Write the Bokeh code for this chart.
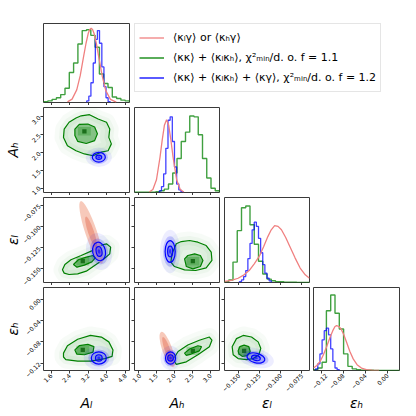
import numpy as np
from math import pi
from bokeh.plotting import figure
from bokeh.models import Range1d, FixedTicker, Legend, LegendItem, GridPlot
from bokeh.embed import file_html
from bokeh.resources import INLINE

# ---------------- parameters, ranges, ticks ----------------
param_labels = ["Aₗ", "Aₕ", "εₗ", "εₕ"]
param_ranges = [(1.27, 4.97), (0.89, 3.25), (-0.166, -0.066), (-0.134, 0.022)]
tick_values = [[1.6, 2.4, 3.2, 4.0, 4.8],
               [1.0, 1.5, 2.0, 2.5, 3.0],
               [-0.150, -0.125, -0.100, -0.075],
               [-0.12, -0.08, -0.04, 0.0]]
tick_labels = [["1.6", "2.4", "3.2", "4.0", "4.8"],
               ["1.0", "1.5", "2.0", "2.5", "3.0"],
               ["−0.150", "−0.125", "−0.100", "−0.075"],
               ["−0.12", "−0.08", "−0.04", "0.00"]]

legend_labels = ["⟨κₗγ⟩ or ⟨κₕγ⟩",
                 "⟨κκ⟩ + ⟨κₗκₕ⟩, χ²ₘᵢₙ/d. o. f = 1.1",
                 "⟨κκ⟩ + ⟨κₗκₕ⟩ + ⟨κγ⟩, χ²ₘᵢₙ/d. o. f = 1.2"]

# ---------------- 1D marginals (relative heights) ----------------
green_hist_Al = [0.01, 0.02, 0.04, 0.06, 0.10, 0.18, 0.38, 0.50, 0.74, 0.91,
                 0.92, 0.85, 0.70, 0.36, 0.24, 0.19, 0.07, 0.05, 0.03, 0.02]
green_hist_Ah = [0.005, 0.005, 0.005, 0.005, 0.005, 0.01, 0.02, 0.04, 0.10, 0.23,
                 0.40, 0.60, 0.71, 0.90, 0.89, 0.68, 0.40, 0.17, 0.05, 0.02]
green_hist_el = [0.01, 0.03, 0.24, 0.61, 0.88, 0.90, 0.68, 0.45, 0.25, 0.10,
                 0.04, 0.02, 0.01, 0.008, 0.005, 0.004, 0.003, 0.002, 0.002, 0.001]
green_hist_eh = [0.01, 0.03, 0.10, 0.72, 0.91, 0.69, 0.50, 0.20, 0.05, 0.02,
                 0.01, 0.005, 0.004, 0.003, 0.002, 0.002, 0.001, 0.001, 0.001, 0.001]

blue_edges_Al = [3.13, 3.22, 3.31, 3.41, 3.50, 3.59, 3.68, 3.78, 3.87, 3.96, 4.05, 4.14]
blue_hist_Al = [0.02, 0.08, 0.25, 0.50, 0.80, 0.91, 0.75, 0.45, 0.20, 0.06, 0.01]
blue_edges_Ah = [1.58, 1.64, 1.70, 1.76, 1.82, 1.88, 1.94, 2.00, 2.06, 2.12, 2.18, 2.24]
blue_hist_Ah = [0.02, 0.07, 0.22, 0.52, 0.85, 0.89, 0.60, 0.30, 0.10, 0.03, 0.01]
blue_edges_el = [-0.1485, -0.1460, -0.1435, -0.1410, -0.1385, -0.1360, -0.1335, -0.1310,
                 -0.1285, -0.1260, -0.1235, -0.1210, -0.1185, -0.1160, -0.1135, -0.1110]
blue_hist_el = [0.01, 0.03, 0.07, 0.14, 0.28, 0.46, 0.62, 0.71, 0.66, 0.52, 0.35, 0.21, 0.11, 0.05, 0.02]
blue_edges_eh = [-0.1301, -0.1262, -0.1223, -0.1184, -0.1145, -0.1106, -0.1067, -0.1028,
                 -0.0989, -0.0950, -0.0911, -0.0872]
blue_hist_eh = [0.02, 0.08, 0.20, 0.37, 0.48, 0.51, 0.43, 0.26, 0.11, 0.03, 0.01]

red_x_Al = [2.30, 2.50, 2.70, 2.85, 3.00, 3.10, 3.20, 3.26, 3.32, 3.38, 3.45, 3.55, 3.65, 3.80, 3.95, 4.15, 4.40]
red_y_Al = [0.008, 0.043, 0.16, 0.34, 0.59, 0.75, 0.88, 0.925, 0.94, 0.925, 0.87, 0.74, 0.57, 0.33, 0.15, 0.04, 0.005]
red_x_Ah = [1.30, 1.40, 1.50, 1.60, 1.66, 1.72, 1.78, 1.84, 1.90, 1.96, 2.06, 2.16, 2.26]
red_y_Ah = [0.005, 0.035, 0.15, 0.42, 0.62, 0.79, 0.855, 0.79, 0.62, 0.42, 0.15, 0.035, 0.005]
red_x_el = [-0.166, -0.158, -0.150, -0.143, -0.137, -0.131, -0.125, -0.120, -0.115, -0.111,
            -0.107, -0.103, -0.099, -0.094, -0.089, -0.083, -0.077, -0.071, -0.066]
red_y_el = [0.012, 0.025, 0.05, 0.09, 0.14, 0.22, 0.31, 0.42, 0.54, 0.62,
            0.67, 0.66, 0.62, 0.53, 0.42, 0.29, 0.17, 0.09, 0.05]
red_x_eh = [-0.134, -0.128, -0.122, -0.116, -0.110, -0.104, -0.099, -0.095, -0.092, -0.088,
            -0.084, -0.079, -0.074, -0.068, -0.062, -0.055, -0.047, -0.038, -0.028, -0.015]
red_y_eh = [0.03, 0.06, 0.11, 0.19, 0.29, 0.40, 0.48, 0.53, 0.54, 0.53,
            0.50, 0.43, 0.34, 0.23, 0.14, 0.07, 0.03, 0.01, 0.003, 0.0]

# ---------------- 2D panels: green contours (outer / inner), peak, blue & red ellipses ----------------
# (A_l , A_h)
AlAh_outer_x = [2.13, 2.16, 2.37, 2.67, 2.89, 3.25, 3.62, 3.98, 4.12, 4.08, 4.19, 4.05, 3.76, 3.40, 3.03, 2.67, 2.30]
AlAh_outer_y = [2.42, 2.65, 2.84, 2.96, 3.02, 3.05, 2.93, 2.84, 2.65, 2.42, 2.24, 2.05, 2.01, 1.91, 1.96, 2.05, 2.19]
AlAh_inner_x = [2.62, 2.81, 3.18, 3.47, 3.59, 3.47, 3.11, 2.74, 2.62]
AlAh_inner_y = [2.65, 2.78, 2.79, 2.71, 2.52, 2.33, 2.25, 2.31, 2.47]
AlAh_peak = [3.03, 2.59]
AlAh_blue = [3.65, 1.87, 0.56, 0.27, 0.25, 0.12, 0.0]   # cx, cy, w_out, h_out, w_in, h_in, angle

# (A_l , eps_l)
Alel_outer_x = [2.085, 2.19, 2.45, 2.89, 3.32, 3.69, 3.98, 4.16, 4.12, 3.83, 3.47, 3.11, 2.74, 2.37, 2.16]
Alel_outer_y = [-0.1511, -0.1448, -0.1393, -0.1342, -0.1291, -0.1225, -0.1205, -0.1244, -0.1323,
                -0.1393, -0.1460, -0.1527, -0.1558, -0.1566, -0.1550]
Alel_inner_x = [2.56, 2.77, 3.11, 3.40, 3.50, 3.35, 3.03, 2.71]
Alel_inner_y = [-0.1448, -0.1393, -0.1362, -0.1342, -0.1370, -0.1417, -0.1456, -0.1480]
Alel_peak = [2.96, -0.1409]
Alel_blue = [3.66, -0.1295, 0.55, 0.022, 0.25, 0.0118, 0.2]
Alel_red = [3.32, -0.107, 0.50, 0.0774, 0.26, 0.039, 0.325]   # cx, cy, w_out, h_out, w_in, h_in, angle

# (A_l , eps_h)
Aleh_outer_x = [2.13, 2.30, 2.74, 3.29, 3.76, 4.08, 4.26, 4.22, 3.91, 3.32, 2.74, 2.23, 2.13]
Aleh_outer_y = [-0.1013, -0.0874, -0.0753, -0.0681, -0.0711, -0.0802, -0.0953, -0.1074, -0.1116,
                -0.1165, -0.1165, -0.1134, -0.1086]
Aleh_inner_x = [2.62, 2.81, 3.18, 3.44, 3.40, 3.03, 2.70]
Aleh_inner_y = [-0.0953, -0.0874, -0.0850, -0.0892, -0.0995, -0.1044, -0.1031]
Aleh_peak = [2.96, -0.0953]
Aleh_blue = [3.65, -0.1104, 0.65, 0.023, 0.29, 0.012, 0.0]

# (A_h , eps_l)
Ahel_outer_x = [1.90, 1.93, 2.05, 2.19, 2.42, 2.65, 2.88, 3.02, 3.04, 2.88, 2.59, 2.28, 2.00]
Ahel_outer_y = [-0.1421, -0.1323, -0.1205, -0.1178, -0.1166, -0.1186, -0.1225, -0.1303, -0.1401,
                -0.1487, -0.1519, -0.1511, -0.1472]
Ahel_inner_x = [2.28, 2.37, 2.56, 2.72, 2.79, 2.72, 2.51, 2.33]
Ahel_inner_y = [-0.1382, -0.1342, -0.1323, -0.1342, -0.1401, -0.1472, -0.1499, -0.1472]
Ahel_peak = [2.51, -0.1409]
Ahel_blue = [1.88, -0.1295, 0.28, 0.0255, 0.14, 0.0125, 0.0]

# (A_h , eps_h)
Aheh_outer_x = [1.96, 2.10, 2.37, 2.69, 2.97, 3.04, 2.97, 2.65, 2.33, 2.05]
Aheh_outer_y = [-0.1134, -0.0983, -0.0862, -0.0771, -0.0711, -0.0771, -0.0892, -0.1044, -0.1177, -0.1225]
Aheh_inner_x = [2.28, 2.42, 2.65, 2.75, 2.69, 2.46, 2.33]
Aheh_inner_y = [-0.1013, -0.0935, -0.0874, -0.0892, -0.0971, -0.1031, -0.1056]
Aheh_peak = [2.51, -0.0971]
Aheh_blue = [1.89, -0.1104, 0.28, 0.023, 0.157, 0.012, 0.0]
Aheh_red = [1.80, -0.0945, 0.28, 0.070, 0.15, 0.050, 0.335]

# (eps_l , eps_h)
eleh_outer_x = [-0.1570, -0.1519, -0.1440, -0.1342, -0.1264, -0.1233, -0.1256, -0.1322, -0.1401, -0.1500, -0.1558]
eleh_outer_y = [-0.0892, -0.0741, -0.0681, -0.0711, -0.0802, -0.0923, -0.1044, -0.1116, -0.1134, -0.1116, -0.1044]
eleh_inner_x = [-0.1500, -0.1480, -0.1429, -0.1374, -0.1358, -0.1389, -0.1452, -0.1490]
eleh_inner_y = [-0.0971, -0.0892, -0.0862, -0.0892, -0.0983, -0.1062, -0.1074, -0.1031]
eleh_peak = [-0.1429, -0.0971]
eleh_blue = [-0.1291, -0.1104, 0.0216, 0.018, 0.0106, 0.0097, -0.25]

# ---------------- style / layout ----------------
FONT = "DejaVu Sans"
GREEN = "#008000"
BLUE = "#0000ff"
RED_LINE = "#f08080"
RED_OUT = "#f6c3b3"
RED_IN = "#ec9a86"
FRAME = "#3a3a3a"
FRAME_W = 86
FRAME_H = 85
LEFT0 = 43
TOP0 = 17
BOTTOM3 = 42
# axis-label standoffs so that labels line up like the reference
BOTTOM_STANDOFF = [7, 7, -2, 1]
LEFT_STANDOFF = [5, 5, -4, -1]

diag = {
    0: (green_hist_Al, blue_edges_Al, blue_hist_Al, red_x_Al, red_y_Al),
    1: (green_hist_Ah, blue_edges_Ah, blue_hist_Ah, red_x_Ah, red_y_Ah),
    2: (green_hist_el, blue_edges_el, blue_hist_el, red_x_el, red_y_el),
    3: (green_hist_eh, blue_edges_eh, blue_hist_eh, red_x_eh, red_y_eh),
}
panels = {
    (1, 0): (AlAh_outer_x, AlAh_outer_y, AlAh_inner_x, AlAh_inner_y, AlAh_peak, AlAh_blue, None),
    (2, 0): (Alel_outer_x, Alel_outer_y, Alel_inner_x, Alel_inner_y, Alel_peak, Alel_blue, Alel_red),
    (3, 0): (Aleh_outer_x, Aleh_outer_y, Aleh_inner_x, Aleh_inner_y, Aleh_peak, Aleh_blue, None),
    (2, 1): (Ahel_outer_x, Ahel_outer_y, Ahel_inner_x, Ahel_inner_y, Ahel_peak, Ahel_blue, None),
    (3, 1): (Aheh_outer_x, Aheh_outer_y, Aheh_inner_x, Aheh_inner_y, Aheh_peak, Aheh_blue, Aheh_red),
    (3, 2): (eleh_outer_x, eleh_outer_y, eleh_inner_x, eleh_inner_y, eleh_peak, eleh_blue, None),
}


def step_path(edges, heights):
    xs, ys = [edges[0]], [0.0]
    for k, h in enumerate(heights):
        xs += [edges[k], edges[k + 1]]
        ys += [h, h]
    xs.append(edges[-1])
    ys.append(0.0)
    return xs, ys


def style_axis(ax, k, show, standoff):
    ax.ticker = FixedTicker(ticks=tick_values[k])
    ax.axis_line_color = None
    ax.major_tick_line_color = FRAME
    ax.major_tick_in = 0
    ax.major_tick_out = 3
    ax.minor_tick_line_color = None
    ax.major_label_orientation = pi / 4
    if show:
        ax.major_label_overrides = dict(zip(tick_values[k], tick_labels[k]))
        ax.major_label_text_font_size = "6px"
        ax.major_label_text_font = FONT
        ax.major_label_text_color = "black"
        ax.major_label_standoff = 1
        ax.axis_label = param_labels[k]
        ax.axis_label_text_font = FONT
        ax.axis_label_text_font_size = "14px"
        ax.axis_label_text_font_style = "italic"
        ax.axis_label_text_color = "black"
        ax.axis_label_standoff = standoff
    else:
        ax.major_label_overrides = {v: "" for v in tick_values[k]}
        ax.major_label_text_font_size = "0px"
        ax.major_label_standoff = 0


def make_panel(i, j):
    left = LEFT0 if j == 0 else 2
    top = TOP0 if i == 0 else 2
    bottom = BOTTOM3 if i == 3 else 3
    p = figure(width=left + FRAME_W + 2, height=top + FRAME_H + bottom,
               x_range=Range1d(*param_ranges[j]),
               y_range=Range1d(0, 1) if i == j else Range1d(*param_ranges[i]),
               output_backend="svg", toolbar_location=None,
               y_axis_location=None if i == j else "left",
               min_border_left=left, min_border_right=2,
               min_border_top=top, min_border_bottom=bottom)
    p.grid.visible = False
    p.outline_line_color = FRAME
    p.outline_line_width = 1
    style_axis(p.xaxis[0], j, i == 3, BOTTOM_STANDOFF[j])
    if i != j:
        style_axis(p.yaxis[0], i, j == 0, LEFT_STANDOFF[i])
    return p


def draw_diag(p, k):
    gh, be, bh, rx, ry = diag[k]
    lo, hi = param_ranges[k]
    gedges = list(np.linspace(lo, hi, len(gh) + 1))
    xs, ys = step_path(gedges, gh)
    p.line(xs, ys, line_color=GREEN, line_alpha=0.75, line_width=1.4)
    xs, ys = step_path(be, bh)
    p.line(xs, ys, line_color=BLUE, line_alpha=0.75, line_width=1.3)
    p.line(rx, ry, line_color=RED_LINE, line_width=1.3)


def draw_2d(p, i, j):
    ox, oy, ix, iy, peak, blue, red = panels[(i, j)]
    bx = (param_ranges[j][1] - param_ranges[j][0]) / 20
    by = (param_ranges[i][1] - param_ranges[i][0]) / 20
    # faint sample cloud around the outer contour
    p.patch(ox, oy, fill_alpha=0, line_color=GREEN, line_alpha=0.03, line_width=18, line_join="round")
    p.patch(ox, oy, fill_alpha=0, line_color=GREEN, line_alpha=0.04, line_width=9, line_join="round")
    p.patch(ox, oy, fill_color=GREEN, fill_alpha=0.10, line_color=None)
    p.patch(ix, iy, fill_color=GREEN, fill_alpha=0.42, line_color=None)
    p.rect([peak[0]], [peak[1]], width=3 * bx, height=2 * by, fill_color=GREEN, fill_alpha=0.25, line_color=None)
    p.rect([peak[0]], [peak[1]], width=bx, height=by, fill_color="#1b6e1b", line_color=None)
    p.patch(ox, oy, fill_alpha=0, line_color=GREEN, line_width=1.2)
    p.patch(ix, iy, fill_alpha=0, line_color=GREEN, line_width=1.2)
    if red is not None:
        p.ellipse([red[0]], [red[1]], width=red[2], height=red[3], angle=red[6],
                  fill_color=RED_OUT, fill_alpha=0.9, line_color=None)
        p.ellipse([red[0]], [red[1]], width=red[4], height=red[5], angle=red[6],
                  fill_color=RED_IN, fill_alpha=0.9, line_color=None)
    cx, cy, wo, ho, wi, hi, ang = blue
    p.ellipse([cx], [cy], width=wo * 2.0, height=ho * 2.0, angle=ang, fill_color=BLUE, fill_alpha=0.07, line_color=None)
    p.ellipse([cx], [cy], width=wo * 1.4, height=ho * 1.4, angle=ang, fill_color=BLUE, fill_alpha=0.18, line_color=None)
    p.ellipse([cx], [cy], width=wo, height=ho, angle=ang, fill_color=BLUE, fill_alpha=0.12,
              line_color=BLUE, line_width=1.2)
    p.ellipse([cx], [cy], width=wi, height=hi, angle=ang, fill_color=BLUE, fill_alpha=0.25,
              line_color=BLUE, line_width=1.2)
    p.ellipse([cx], [cy], width=wi * 0.45, height=hi * 0.45, angle=ang, fill_color=BLUE, fill_alpha=0.6,
              line_color=None)


children = []
for i in range(4):
    for j in range(i + 1):
        p = make_panel(i, j)
        if i == j:
            draw_diag(p, i)
        else:
            draw_2d(p, i, j)
        children.append((p, i, j))

# legend panel spanning the top-right cells
LEG_TOP = 23
lf = figure(width=3 * (FRAME_W + 4), height=TOP0 + FRAME_H + 3, output_backend="svg", toolbar_location=None,
            x_range=Range1d(0, 1), y_range=Range1d(0, 1), x_axis_location=None, y_axis_location=None,
            min_border_left=3, min_border_right=0, min_border_top=LEG_TOP, min_border_bottom=0)
lf.grid.visible = False
lf.outline_line_color = None
r_red = lf.line([-5, -4], [-5, -4], line_color=RED_LINE, line_width=1.3)
r_green = lf.line([-5, -4], [-5, -4], line_color=GREEN, line_width=1.3)
r_blue = lf.line([-5, -4], [-5, -4], line_color=BLUE, line_width=1.3)
leg = Legend(items=[LegendItem(label=legend_labels[0], renderers=[r_red]),
                    LegendItem(label=legend_labels[1], renderers=[r_green]),
                    LegendItem(label=legend_labels[2], renderers=[r_blue])],
             location="top_left")
leg.label_text_font = FONT
leg.label_text_font_size = "11px"
leg.label_text_color = "black"
leg.glyph_width = 25
leg.glyph_height = 19
leg.label_height = 19
leg.label_standoff = 9
leg.spacing = 1
leg.padding = 4
leg.margin = 0
leg.border_line_color = "#cccccc"
leg.border_line_width = 1
leg.background_fill_alpha = 0.8
lf.add_layout(leg)
children.append((lf, 0, 1, 1, 3))

grid = GridPlot(children=children, toolbar_location=None)

open("out.html", "w").write(file_html(grid, INLINE))
